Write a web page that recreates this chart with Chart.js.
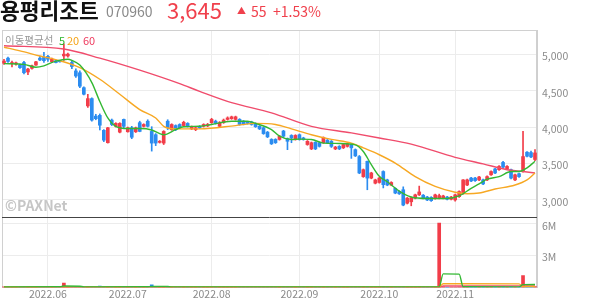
<!DOCTYPE html>
<html lang="ko">
<head>
<meta charset="utf-8">
<script src="https://cdn.jsdelivr.net/npm/chart.js@4"></script>
<style>
  body { margin: 0; background: #fff; font-family: "Noto Sans CJK KR", "Noto Sans", sans-serif; }
  #wrap { position: relative; width: 594px; height: 304px; overflow: hidden; }
  #chart { position: absolute; left: 0; top: 0; }
  .t { position: absolute; white-space: nowrap; line-height: 1; }
</style>
</head>
<body>
<div id="wrap">
  <canvas id="chart" width="594" height="304"></canvas>
  <div class="t" style="left:0;top:-1px;font-size:21.5px;font-weight:700;color:#111">용평리조트</div>
  <div class="t" style="left:106px;top:4px;font-size:14px;color:#8a8a8a">070960</div>
  <div class="t" style="left:167px;top:-2px;font-size:22px;color:#f0404c">3,645</div>
  <div class="t" style="left:237px;top:6px;font-size:9px;color:#f0404c">▲</div>
  <div class="t" style="left:251px;top:4px;font-size:14px;color:#f0404c">55</div>
  <div class="t" style="left:273px;top:4px;font-size:14px;color:#f0404c">+1.53%</div>

  <div class="t" style="left:5px;top:35px;font-size:10.5px;color:#9a9a9a">이동평균선</div>
  <div class="t" style="left:59px;top:35px;font-size:11px;color:#2bb52b">5</div>
  <div class="t" style="left:67px;top:35px;font-size:11px;color:#f5a316">20</div>
  <div class="t" style="left:83px;top:35px;font-size:11px;color:#ee3a5e">60</div>
  <div class="t" style="left:5px;top:198px;font-size:14px;font-weight:700;color:#c6c6c6">©PAXNet</div>
</div>
<script>
// trading calendar
const firstDay = '2022-05-17';
const holidays = ['2022-06-01', '2022-06-06', '2022-08-15', '2022-09-09', '2022-09-12', '2022-10-03', '2022-10-10'];

// daily candles (KRW)
const opens = [4875,4945,4870,4865,4850,4885,4755,4805,4850,4945,
  4955,4970,4895,4910,4905,4975,4975,4885,4770,4745,
  4540,4290,4390,4150,4160,3955,3785,4095,4010,3930,
  4105,3935,3990,3935,4060,4010,4080,3940,3895,3790,
  3780,4080,3965,4020,4035,4020,4050,3975,3965,4010,
  4010,4015,4060,4080,4010,4060,4105,4115,4105,4105,
  4080,4065,4070,4050,4010,3990,3930,3830,3830,3830,
  3945,3840,3885,3830,3895,3850,3760,3700,3790,3785,
  3785,3820,3805,3700,3735,3715,3735,3760,3690,3595,
  3320,3530,3300,3230,3240,3390,3275,3205,3160,3115,
  3140,2955,2975,3025,3070,3065,3040,3035,3020,3030,
  3025,3040,3010,3000,3045,3085,3205,3300,3300,3275,
  3275,3275,3345,3425,3415,3515,3425,3415,3275,3360,
  3390,3655,3650,3555];
const highs = [4930,4960,4905,4890,4865,4900,4805,4850,4900,4975,
  5025,4985,4945,4920,4915,5140,5015,4900,4800,4770,
  4550,4450,4400,4175,4180,3965,3995,4110,4060,4060,
  4110,4000,4010,4000,4080,4045,4100,4005,3910,3815,
  3950,4100,4045,4030,4045,4080,4060,4015,4000,4020,
  4045,4050,4120,4095,4075,4110,4140,4150,4150,4115,
  4090,4075,4080,4060,4020,4000,3940,3840,3840,3885,
  3955,3850,3895,3895,3905,3860,3815,3795,3800,3795,
  3865,3830,3815,3735,3745,3770,3780,3770,3700,3610,
  3425,3535,3380,3285,3310,3400,3285,3250,3165,3125,
  3180,3035,3040,3080,3190,3075,3050,3045,3080,3080,
  3065,3050,3050,3080,3125,3280,3285,3310,3310,3325,
  3285,3330,3400,3435,3470,3530,3470,3425,3355,3370,
  3940,3665,3670,3690];
const lows = [4860,4885,4825,4850,4805,4730,4720,4795,4845,4910,
  4885,4900,4885,4880,4890,4915,4960,4800,4680,4540,
  4440,4270,4080,4100,3960,3800,3780,4020,4000,3920,
  3990,3930,3840,3925,3935,4000,4000,3670,3745,3780,
  3760,3965,3955,3950,3980,4010,4000,3965,3950,3980,
  4000,4005,4050,4040,4000,4050,4095,4105,4095,4025,
  4030,4040,4025,3995,3965,3900,3855,3760,3775,3820,
  3865,3690,3785,3820,3820,3820,3750,3690,3690,3725,
  3775,3775,3720,3690,3690,3705,3725,3570,3595,3360,
  3310,3140,3290,3220,3230,3165,3195,3195,3085,3075,
  2920,2945,2920,3015,3060,3015,2990,2980,3010,3015,
  3015,3000,3000,2985,3035,3080,3195,3250,3255,3265,
  3210,3265,3335,3360,3405,3440,3415,3290,3265,3310,
  3380,3590,3580,3540];
const closes = [4905,4900,4885,4880,4815,4745,4795,4840,4895,4920,
  4910,4930,4930,4885,4895,5000,5000,4830,4700,4560,
  4450,4390,4095,4115,4025,3820,3990,4035,4050,4050,
  4010,3990,3860,3990,3940,4035,4010,3780,3780,3805,
  3940,3990,4035,3965,3990,4065,4010,4005,3990,3990,
  4035,4035,4105,4050,4060,4095,4125,4140,4140,4035,
  4035,4050,4035,4005,3975,3910,3865,3770,3785,3875,
  3875,3805,3850,3885,3830,3830,3805,3785,3700,3735,
  3855,3785,3735,3725,3700,3760,3770,3715,3605,3370,
  3415,3300,3370,3275,3300,3210,3205,3240,3095,3085,
  2930,3025,3030,3070,3110,3025,3000,2990,3070,3060,
  3055,3010,3040,3070,3115,3275,3275,3260,3265,3315,
  3220,3320,3390,3370,3460,3450,3460,3300,3345,3320,
  3595,3600,3590,3645];
const volumes = [52000,38000,31000,27000,35000,61000,44000,30000,36000,42000,
  58000,40000,33000,26000,24000,400000,95000,70000,66000,88000,
  72000,110000,95000,60000,120000,110000,90000,55000,40000,48000,
  45000,30000,52000,33000,41000,28000,36000,230000,80000,40000,
  75000,52000,38000,30000,27000,35000,26000,24000,22000,25000,
  28000,26000,40000,30000,33000,36000,32000,30000,34000,28000,
  25000,22000,24000,27000,30000,38000,35000,45000,32000,30000,
  34000,40000,28000,30000,26000,24000,60000,42000,38000,29000,
  35000,27000,31000,24000,26000,30000,28000,36000,42000,65000,
  48000,55000,36000,33000,62000,45000,30000,28000,35000,32000,
  60000,40000,38000,34000,50000,30000,27000,29000,33000,6060000,
  42000,30000,28000,36000,45000,85000,60000,38000,30000,34000,
  32000,36000,48000,40000,42000,50000,38000,44000,36000,30000,
  1100000,120000,90000,85000];

// moving averages at sample days
const ma5Days = [0,5,8,10,13,16,17,19,22,24,26,28,31,34,37,39,40,43,45,49,52,57,61,63,67,69,72,74,77,80,84,88,90,92,94,96,99,102,106,111,114,117,119,121,124,127,129,131,133];
const ma5Vals = [4870,4860,4820,4840,4905,4930,4915,4850,4610,4350,4125,4010,3980,3980,3960,3910,3895,3965,4005,4010,4035,4080,4080,4050,3965,3875,3830,3835,3830,3780,3775,3755,3665,3485,3325,3250,3120,3040,3020,3020,3055,3160,3220,3285,3320,3390,3390,3440,3530];
const ma20Days = [0,4,9,14,19,24,29,34,38,40,43,49,58,63,68,72,77,82,87,90,94,98,103,108,113,116,119,123,128,131,133];
const ma20Vals = [5095,5045,4975,4910,4815,4655,4450,4240,4125,4010,3975,3975,4020,4050,4035,3975,3895,3830,3780,3715,3620,3505,3320,3185,3105,3085,3095,3150,3205,3275,3370];
const ma60Days = [0,15,24,34,44,49,57,67,77,87,94,102,113,120,126,130,133];
const ma60Vals = [5115,5070,4945,4780,4595,4490,4335,4195,4010,3920,3850,3765,3585,3495,3415,3390,3370];

const vma5Days = [0,14,15,19,20,36,37,41,42,109,110,114,115,129,130,133];
const vma5Vals = [40000,60000,130000,110000,50000,60000,90000,80000,45000,50000,1270000,1250000,60000,50000,260000,270000];
const vma20Days = [0,109,110,129,130,133];
const vma20Vals = [40000,45000,340000,330000,80000,90000];
const vma60Days = [0,109,110,133];
const vma60Vals = [30000,30000,130000,140000];

// axis ticks
const priceTicks = [3000, 3500, 4000, 4500, 5000];
const volumeTicks = [3000000, 6000000];

const UP = '#f23d49', DOWN = '#2b8cf0';

const dates = [];
for (let d = new Date(firstDay + 'T00:00:00Z'); dates.length < closes.length; d.setUTCDate(d.getUTCDate() + 1)) {
    const wd = d.getUTCDay();
    const s = d.toISOString().slice(0, 10);
    if (wd === 0 || wd === 6 || holidays.includes(s)) continue;
    dates.push(s);
}
const monthStart = dates.map((s, i) => i > 0 && s.slice(5, 7) !== dates[i - 1].slice(5, 7));

function sparse(days, vals) {
    const arr = new Array(closes.length).fill(null);
    days.forEach((d, k) => { arr[d] = vals[k]; });
    return arr;
}

const colors = closes.map((c, i) => c >= opens[i] ? UP : DOWN);
const bodies = opens.map((o, i) => [o, closes[i]]);
const wicks = lows.map((l, i) => [l, highs[i]]);

function maLine(label, data, color, axis) {
    return {
        type: 'line', label, data, yAxisID: axis,
        borderColor: color, borderWidth: 1.4, pointRadius: 0,
        spanGaps: true, cubicInterpolationMode: 'monotone', order: 1
    };
}

const frame = {
    id: 'frame',
    beforeDatasetsDraw(chart) {
        const { ctx, chartArea: a, scales } = chart;
        ctx.save();
        ctx.strokeStyle = '#d0d0d0';
        ctx.lineWidth = 1;
        ctx.strokeRect(Math.round(a.left) + 0.5, Math.round(a.top) + 0.5, Math.round(a.width) - 1, Math.round(a.height));
        ctx.strokeStyle = '#444';
        const y = Math.round(scales.y.bottom) + 0.5;
        ctx.beginPath();
        ctx.moveTo(a.left, y);
        ctx.lineTo(a.right, y);
        ctx.stroke();
        ctx.restore();
    }
};

Chart.defaults.font.family = '"Noto Sans CJK KR", "Noto Sans", sans-serif';

new Chart(document.getElementById('chart'), {
    type: 'bar',
    data: {
        labels: dates,
        datasets: [
            maLine('5', sparse(ma5Days, ma5Vals), '#33b833', 'y'),
            maLine('20', sparse(ma20Days, ma20Vals), '#f7a823', 'y'),
            maLine('60', sparse(ma60Days, ma60Vals), '#f04c6c', 'y'),
            { label: 'wick', data: wicks, backgroundColor: colors, barThickness: 1, grouped: false, yAxisID: 'y', order: 3 },
            { label: 'body', data: bodies, backgroundColor: colors, barThickness: 3, minBarLength: 1, grouped: false, yAxisID: 'y', order: 2 },
            { label: 'volume', data: volumes, backgroundColor: colors, barThickness: 3, grouped: false, yAxisID: 'yv', order: 2 },
            maLine('v5', sparse(vma5Days, vma5Vals), '#33b833', 'yv'),
            maLine('v20', sparse(vma20Days, vma20Vals), '#f7a823', 'yv'),
            maLine('v60', sparse(vma60Days, vma60Vals), '#f04c6c', 'yv')
        ]
    },
    options: {
        responsive: false,
        animation: false,
        devicePixelRatio: 1,
        layout: { padding: { top: 30, left: 2, right: 0, bottom: 4 } },
        plugins: { legend: { display: false }, tooltip: { enabled: false } },
        scales: {
            x: {
                offset: true,
                grid: { offset: false, drawTicks: false, color: ctx => monthStart[ctx.index] ? '#ececec' : 'rgba(0,0,0,0)' },
                border: { display: false },
                ticks: {
                    autoSkip: false, maxRotation: 0, padding: 0, color: '#8a8a8a', font: { size: 10.5 },
                    callback: (v, i) => monthStart[i] ? dates[i].slice(0, 7).replace('-', '.') : ''
                }
            },
            y: {
                position: 'right', stack: 'main', stackWeight: 186,
                min: 2766, max: 5331,
                afterBuildTicks: s => { s.ticks = priceTicks.map(v => ({ value: v })); },
                afterFit: s => { s.width = 57; },
                grid: { color: '#ececec', drawTicks: false },
                border: { color: '#cfcfcf' },
                ticks: { color: '#8a8a8a', font: { size: 10.5 }, padding: 5, labelOffset: 2, callback: v => v.toLocaleString('en-US') }
            },
            yv: {
                position: 'right', stack: 'main', stackWeight: 70,
                min: 0, max: 6620000,
                afterBuildTicks: s => { s.ticks = volumeTicks.map(v => ({ value: v })); },
                afterFit: s => { s.width = 57; },
                grid: { color: '#ececec', drawTicks: false },
                border: { color: '#cfcfcf' },
                ticks: { color: '#8a8a8a', font: { size: 10.5 }, padding: 5, labelOffset: 2, callback: v => (v / 1000000) + 'M' }
            }
        }
    },
    plugins: [frame]
});
</script>
</body>
</html>
